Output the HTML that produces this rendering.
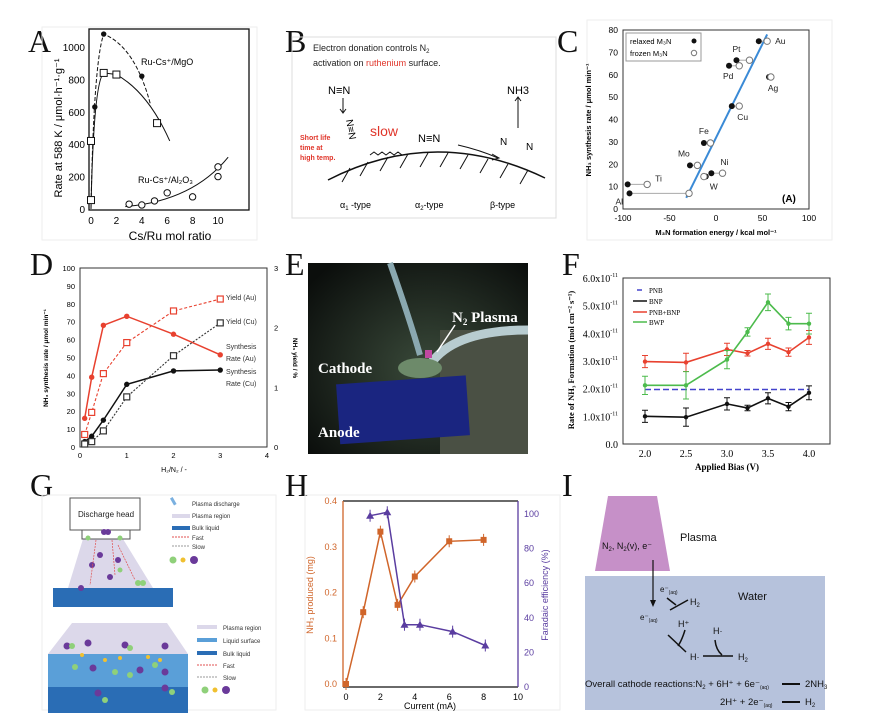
<!DOCTYPE html>
<html><head><meta charset="utf-8">
<style>
html,body{margin:0;padding:0;background:#fff;}
svg{display:block;font-family:"Liberation Sans",sans-serif;}
.lt{font-family:"Liberation Serif",serif;font-size:32px;fill:#111;}
.tk{font-size:9px;fill:#222;}
</style></head><body>
<svg id="fig" width="873" height="725" viewBox="0 0 873 725" xmlns="http://www.w3.org/2000/svg">
<rect width="873" height="725" fill="#fff"/>
<!-- panel letters -->
<text class="lt" x="28" y="52">A</text>
<text class="lt" x="285" y="52">B</text>
<text class="lt" x="557" y="52">C</text>
<text class="lt" x="30" y="275">D</text>
<text class="lt" x="285" y="275">E</text>
<text class="lt" x="562" y="275">F</text>
<text class="lt" x="30" y="496">G</text>
<text class="lt" x="285" y="496">H</text>
<text class="lt" x="562" y="496">I</text>

<!-- frames -->
<rect x="42" y="27" width="215" height="213" fill="none" stroke="#eee"/>
<rect x="292" y="37" width="264" height="181" fill="none" stroke="#ddd"/>
<rect x="587" y="20" width="245" height="220" fill="none" stroke="#eee"/>
<rect x="42" y="495" width="234" height="215" fill="none" stroke="#eee"/>
<rect x="305" y="495" width="255" height="215" fill="none" stroke="#eee"/>

<g id="pa"></g>
<!-- Panel B -->
<g font-family="Liberation Sans,sans-serif">
<text x="313" y="51" font-size="9" fill="#222">Electron donation controls N<tspan font-size="6" dy="2">2</tspan></text>
<text x="313" y="66" font-size="9" fill="#222">activation on <tspan fill="#e0352a">ruthenium</tspan> surface.</text>
<path d="M328,180 Q435,125 545,178" fill="none" stroke="#111" stroke-width="1.5"/>
<g stroke="#111" stroke-width="1">
<line x1="350" y1="168" x2="342" y2="182"/><line x1="368" y1="162" x2="360" y2="176"/><line x1="388" y1="157" x2="380" y2="171"/><line x1="408" y1="154" x2="400" y2="168"/><line x1="428" y1="153" x2="420" y2="167"/><line x1="448" y1="153" x2="440" y2="167"/><line x1="468" y1="155" x2="460" y2="169"/><line x1="488" y1="159" x2="480" y2="173"/><line x1="508" y1="164" x2="500" y2="178"/><line x1="528" y1="170" x2="520" y2="184"/>
<line x1="343" y1="98" x2="343" y2="112"/><path d="M340,109 L343,113 L346,109" fill="none"/>
<line x1="518" y1="128" x2="518" y2="98"/><path d="M515,101 L518,97 L521,101" fill="none"/>
<path d="M458,145 Q480,150 498,158" fill="none"/><path d="M492,154 L499,158 L492,160" fill="none"/>
<path d="M370,155 l4,-3 l4,3 l4,-3 l4,3 l4,-3 l4,3 l4,-3 l4,3" fill="none"/>
</g>
<text x="328" y="94" font-size="11">N≡N</text>
<text x="507" y="94" font-size="11">NH3</text>
<text x="346" y="120" font-size="10" transform="rotate(80 346 120)">N≡N</text>
<text x="418" y="142" font-size="11">N≡N</text>
<text x="500" y="145" font-size="10">N</text><text x="526" y="150" font-size="10">N</text>
<text x="300" y="140" font-size="7" fill="#e0352a" font-weight="bold">Short life</text>
<text x="300" y="150" font-size="7" fill="#e0352a" font-weight="bold">time at</text>
<text x="300" y="160" font-size="7" fill="#e0352a" font-weight="bold">high temp.</text>
<text x="370" y="136" font-size="14" fill="#e0352a">slow</text>
<text x="340" y="208" font-size="9">α<tspan font-size="6" dy="2">1</tspan><tspan dy="-2"> -type</tspan></text>
<text x="415" y="208" font-size="9">α<tspan font-size="6" dy="2">2</tspan><tspan dy="-2">-type</tspan></text>
<text x="490" y="208" font-size="9">β-type</text>
</g>
<g id="pc"></g>
<g id="pd"></g>
<!-- Panel E photo -->
<g>
<defs>
<radialGradient id="eg" cx="0.55" cy="0.55" r="0.7"><stop offset="0" stop-color="#3a4a3a"/><stop offset="1" stop-color="#0b0e0c"/></radialGradient>
</defs>
<rect x="308" y="263" width="220" height="191" fill="url(#eg)"/>
<rect x="440" y="330" width="88" height="124" fill="#4a5044"/>
<rect x="338" y="380" width="130" height="60" fill="#1a2580" transform="rotate(-4 400 410)"/>
<path d="M390,263 Q410,320 420,355" stroke="#8aa8b0" stroke-width="6" fill="none"/>
<path d="M428,368 Q450,330 528,330" stroke="#b8ccd0" stroke-width="9" fill="none"/>
<ellipse cx="420" cy="368" rx="22" ry="10" fill="#6d8a6a"/>
<rect x="425" y="350" width="7" height="8" fill="#c048a0"/>
<line x1="455" y1="325" x2="437" y2="352" stroke="#fff" stroke-width="1.5"/>
<text x="452" y="322" font-family="Liberation Serif,serif" font-weight="bold" font-size="15" fill="#fff">N<tspan font-size="9" dy="3">2</tspan><tspan dy="-3"> Plasma</tspan></text>
<text x="318" y="373" font-family="Liberation Serif,serif" font-weight="bold" font-size="15" fill="#fff">Cathode</text>
<text x="318" y="437" font-family="Liberation Serif,serif" font-weight="bold" font-size="15" fill="#fff">Anode</text>
</g>
<g id="pf"></g>
<!-- Panel G -->
<g font-size="6" fill="#333">
<polygon points="83,539 123,539 153,588 68,588" fill="#dcd8ea"/>
<rect x="70" y="498" width="70" height="32" fill="#fff" stroke="#555"/>
<text x="78" y="517" font-size="8" fill="#222">Discharge head</text>
<rect x="82" y="530" width="48" height="9" fill="#fff" stroke="#555"/>
<rect x="53" y="588" width="120" height="19" fill="#2a6db5"/>
<g fill="#6a3a9a"><circle cx="104" cy="532" r="3"/><circle cx="108" cy="532" r="3"/><circle cx="100" cy="555" r="3"/><circle cx="92" cy="565" r="3"/><circle cx="110" cy="577" r="3"/><circle cx="81" cy="588" r="3"/><circle cx="118" cy="560" r="3"/></g>
<g fill="#8fd07a"><circle cx="88" cy="538" r="2.5"/><circle cx="120" cy="538" r="2.5"/><circle cx="120" cy="570" r="2.5"/><circle cx="138" cy="583" r="3"/><circle cx="143" cy="583" r="3"/></g>
<g stroke="#e05050" stroke-dasharray="2,1" stroke-width="0.7"><line x1="96" y1="540" x2="90" y2="585"/><line x1="112" y1="540" x2="115" y2="575"/><line x1="118" y1="545" x2="135" y2="580"/></g>
<rect x="172" y="498" width="3" height="8" fill="#7ab0e0" transform="rotate(-30 172 502)"/>
<text x="192" y="506">Plasma discharge</text>
<rect x="172" y="514" width="18" height="4" fill="#dcd8ea"/><text x="192" y="518">Plasma region</text>
<rect x="172" y="526" width="18" height="4" fill="#2a6db5"/><text x="192" y="530">Bulk liquid</text>
<line x1="172" y1="537" x2="190" y2="537" stroke="#e05050" stroke-dasharray="2,1"/><text x="192" y="540">Fast</text>
<line x1="172" y1="546" x2="190" y2="546" stroke="#999" stroke-dasharray="2,1"/><text x="192" y="549">Slow</text>
<circle cx="173" cy="560" r="3.5" fill="#8fd07a"/><circle cx="183" cy="560" r="2.5" fill="#f0c030"/><circle cx="194" cy="560" r="4" fill="#6a3a9a"/>
<polygon points="72,623 167,623 188,654 48,654" fill="#dcd8ea"/>
<rect x="48" y="654" width="140" height="33" fill="#5a9fd8"/>
<rect x="48" y="687" width="140" height="26" fill="#2a6db5"/>
<g fill="#6a3a9a"><circle cx="67" cy="646" r="3.5"/><circle cx="88" cy="643" r="3.5"/><circle cx="125" cy="645" r="3.5"/><circle cx="165" cy="646" r="3.5"/><circle cx="93" cy="668" r="3.5"/><circle cx="140" cy="670" r="3.5"/><circle cx="165" cy="672" r="3.5"/><circle cx="98" cy="693" r="3.5"/><circle cx="165" cy="688" r="3.5"/></g>
<g fill="#8fd07a"><circle cx="72" cy="646" r="3"/><circle cx="130" cy="648" r="3"/><circle cx="75" cy="667" r="3"/><circle cx="115" cy="672" r="3"/><circle cx="130" cy="675" r="3"/><circle cx="155" cy="665" r="3"/><circle cx="105" cy="700" r="3"/><circle cx="172" cy="692" r="3"/></g>
<g fill="#f0c030"><circle cx="82" cy="655" r="2"/><circle cx="105" cy="660" r="2"/><circle cx="120" cy="658" r="2"/><circle cx="148" cy="657" r="2"/><circle cx="160" cy="660" r="2"/></g>
<rect x="197" y="625" width="20" height="4" fill="#dcd8ea"/><text x="223" y="630">Plasma region</text>
<rect x="197" y="638" width="20" height="4" fill="#5a9fd8"/><text x="223" y="643">Liquid surface</text>
<rect x="197" y="651" width="20" height="4" fill="#2a6db5"/><text x="223" y="656">Bulk liquid</text>
<line x1="197" y1="665" x2="217" y2="665" stroke="#e05050" stroke-dasharray="2,1"/><text x="223" y="668">Fast</text>
<line x1="197" y1="677" x2="217" y2="677" stroke="#999" stroke-dasharray="2,1"/><text x="223" y="680">Slow</text>
<circle cx="205" cy="690" r="3.5" fill="#8fd07a"/><circle cx="215" cy="690" r="2.5" fill="#f0c030"/><circle cx="226" cy="690" r="4" fill="#6a3a9a"/>
</g>
<g id="ph"></g>
<!-- Panel I -->
<g font-size="10" fill="#111">
<rect x="585" y="576" width="240" height="134" fill="#b6c2dc"/>
<polygon points="608,496 657,496 670,571 595,571" fill="#c690c8"/>
<text x="602" y="549" font-size="9">N<tspan font-size="6" dy="2">2</tspan><tspan dy="-2">, N</tspan><tspan font-size="6" dy="2">2</tspan><tspan dy="-2">(v), e⁻</tspan></text>
<text x="680" y="541" font-size="11">Plasma</text>
<text x="738" y="600" font-size="11">Water</text>
<line x1="653" y1="560" x2="653" y2="605" stroke="#111" stroke-width="1.2"/><path d="M650,600 L653,607 L656,600" fill="#111"/>
<text x="660" y="592" font-size="8">e⁻<tspan font-size="5" dy="2">(aq)</tspan></text>
<text x="640" y="620" font-size="8">e⁻<tspan font-size="5" dy="2">(aq)</tspan></text>
<text x="690" y="605" font-size="9">H<tspan font-size="6" dy="2">2</tspan></text>
<text x="678" y="627" font-size="9">H⁺</text>
<text x="713" y="634" font-size="9">H·</text>
<text x="690" y="660" font-size="9">H·</text>
<text x="738" y="660" font-size="9">H<tspan font-size="6" dy="2">2</tspan></text>
<g stroke="#111" stroke-width="1.5" fill="none"><path d="M670,610 L688,600"/><path d="M667,598 Q672,602 676,605"/><path d="M668,635 L686,652"/><path d="M685,630 Q682,640 678,646"/><path d="M703,656 L733,656"/><path d="M715,640 Q716,650 722,655"/></g>
<text x="585" y="687" font-size="9.5">Overall cathode reactions:N<tspan font-size="6" dy="2">2</tspan><tspan dy="-2"> + 6H⁺ + 6e⁻</tspan><tspan font-size="5" dy="2">(aq)</tspan></text>
<line x1="782" y1="684" x2="800" y2="684" stroke="#111" stroke-width="2"/>
<text x="805" y="687" font-size="9.5">2NH<tspan font-size="6" dy="2">3</tspan></text>
<text x="720" y="705" font-size="9.5">2H⁺ + 2e⁻<tspan font-size="5" dy="2">(aq)</tspan></text>
<line x1="782" y1="702" x2="800" y2="702" stroke="#111" stroke-width="2"/>
<text x="805" y="705" font-size="9.5">H<tspan font-size="6" dy="2">2</tspan></text>
</g>
</svg>
<script>
// ===== data =====
// Panel A
const aMgOx=[0.3,1,4], aMgOy=[630,1080,820];
const aSqx=[0,0,1,2,5.2], aSqy=[55,420,840,830,530];
const aAlx=[3,4,5,6,8,10,10], aAly=[30,25,50,100,75,200,260];
const aXt=[0,2,4,6,8,10], aYt=[0,200,400,600,800,1000];
// Panel C
const cNames=['Au','Pt','Pd','Ag','Cu','Fe','Mo','Ni','W','Ti','Al'];
const cRelaxed=[46,22,14,57,17,-13,-28,-5,-11,-95,-93];
const cFrozen=[55,36,25,59,25,-6,-20,7,-13,-74,-29];
const cRate=[75,66.5,64,59,46,29.5,19.5,16,14.5,11,7];
const cXt=[-100,-50,0,50,100], cYt=[0,10,20,30,40,50,60,70,80];
// Panel D
const dX=[0.1,0.25,0.5,1,2,3];
const dRateAu=[16,39,68,73,63,51.5];
const dRateCu=[3,6,15,35,42.5,43];
const dYieldAu=[0.21,0.58,1.23,1.75,2.28,2.48];
const dYieldCu=[0.05,0.09,0.27,0.84,1.53,2.08];
const dXt=[0,1,2,3,4], dYt=[0,10,20,30,40,50,60,70,80,90,100], dY2t=[0,1,2,3];
// Panel F
const fX=[2,2.5,3,3.25,3.5,3.75,4];
const fBNP=[1.0,0.97,1.45,1.3,1.65,1.35,1.85];
const fPB=[2.98,2.95,3.42,3.28,3.62,3.32,3.85];
const fBWP=[2.12,2.12,3.05,4.05,5.12,4.35,4.35];
const fErr=[0.22,0.33,0.22,0.1,0.2,0.15,0.25];
const fPNB=1.97;
const fXt=[2,2.5,3,3.5,4], fYt=[0,1,2,3,4,5,6];
// Panel H
const hX=[0,1,2,3,4,6,8], hNH3=[0,0.157,0.333,0.173,0.235,0.312,0.315];
const hFx=[1.4,2.4,3.4,4.3,6.2,8.1], hFE=[99,101,36,36,32,24];
const hXt=[0,2,4,6,8,10], hYt=[0,0.1,0.2,0.3,0.4], hY2t=[0,20,40,60,80,100];

const NS='http://www.w3.org/2000/svg';
function mk(p,t,a,txt){const e=document.createElementNS(NS,t);for(const k in a)e.setAttribute(k,a[k]);if(txt!==undefined)e.textContent=txt;p.appendChild(e);return e;}
function lin(d0,d1,r0,r1){return v=>r0+(v-d0)*(r1-r0)/(d1-d0);}
function pathOf(xs,ys,sx,sy){return xs.map((v,i)=>(i?'L':'M')+sx(v).toFixed(1)+','+sy(ys[i]).toFixed(1)).join(' ');}
function smooth(xs,ys,sx,sy){let d='M'+sx(xs[0])+','+sy(ys[0]);for(let i=1;i<xs.length;i++){const x0=sx(xs[i-1]),y0=sy(ys[i-1]),x1=sx(xs[i]),y1=sy(ys[i]);d+=' Q'+x0+','+((y0+y1)/2)+' '+((x0+x1)/2)+','+((y0+y1)/2)+' T'+x1+','+y1;}return d;}

// ===== Panel A =====
(function(){const g=document.getElementById('pa');
const sx=lin(0,10,91,218), sy=lin(0,1000,209,47);
mk(g,'rect',{x:89,y:29,width:160,height:181,fill:'none',stroke:'#111','stroke-width':1.3});
aXt.forEach(v=>{const t=mk(g,'text',{x:sx(v),y:224,'text-anchor':'middle','font-size':10},v);});
aYt.forEach(v=>{const t=mk(g,'text',{x:85,y:sy(v)+4,'text-anchor':'end','font-size':10},v);});
mk(g,'text',{x:170,y:240,'text-anchor':'middle','font-size':12},'Cs/Ru mol ratio');
mk(g,'text',{x:0,y:0,'text-anchor':'middle','font-size':11,transform:'translate(62,128) rotate(-90)'},'Rate at 588 K / μmol·h⁻¹·g⁻¹');
mk(g,'path',{d:'M'+sx(0)+','+sy(0)+' Q'+sx(0.2)+','+sy(900)+' '+sx(1)+','+sy(1080)+' Q'+sx(3.5)+','+sy(1000)+' '+sx(4.7)+','+sy(640),fill:'none',stroke:'#111','stroke-dasharray':'4,2'});
mk(g,'path',{d:'M'+sx(0)+','+sy(0)+' Q'+sx(0.2)+','+sy(780)+' '+sx(1)+','+sy(840)+' L'+sx(2)+','+sy(830)+' Q'+sx(4.5)+','+sy(720)+' '+sx(6.2)+','+sy(420),fill:'none',stroke:'#111'});
mk(g,'path',{d:'M'+sx(2.7)+','+sy(15)+' Q'+sx(8)+','+sy(50)+' '+sx(10.8)+','+sy(320),fill:'none',stroke:'#111'});
aMgOx.forEach((v,i)=>{const c=mk(g,'circle',{cx:sx(v),cy:sy(aMgOy[i]),r:2.7,fill:'#111'});});
aSqx.forEach((v,i)=>{const c=mk(g,'rect',{x:sx(v)-3.5,y:sy(aSqy[i])-3.5,width:7,height:7,fill:'#fff',stroke:'#111'});});
aAlx.forEach((v,i)=>{const c=mk(g,'circle',{cx:sx(v),cy:sy(aAly[i]),r:3.2,fill:'#fff',stroke:'#111'});});
mk(g,'text',{x:141,y:65,'font-size':9},'Ru-Cs⁺/MgO');
mk(g,'text',{x:138,y:183,'font-size':9},'Ru-Cs⁺/Al₂O₃');
})();

// ===== Panel C =====
(function(){const g=document.getElementById('pc');
const sx=lin(-100,100,623,809), sy=lin(0,80,209,30);
mk(g,'rect',{x:623,y:30,width:186,height:179,fill:'none',stroke:'#333'});
cXt.forEach(v=>{const t=mk(g,'text',{x:sx(v),y:221,'text-anchor':'middle','font-size':8.5},v);});
cYt.forEach(v=>{const t=mk(g,'text',{x:618,y:sy(v)+3,'text-anchor':'end','font-size':8.5},v);});
mk(g,'text',{x:716,y:235,'text-anchor':'middle','font-size':7.5,'font-weight':'bold'},'M₃N formation energy / kcal mol⁻¹');
mk(g,'text',{x:0,y:0,'text-anchor':'middle','font-size':7.5,'font-weight':'bold',transform:'translate(591,120) rotate(-90)'},'NH₃ synthesis rate / μmol min⁻¹');
mk(g,'line',{x1:sx(-32),y1:sy(5),x2:sx(55),y2:sy(78),stroke:'#3a8ad6','stroke-width':2});
cNames.forEach((n,i)=>{const y=sy(cRate[i]);
 mk(g,'line',{x1:sx(cRelaxed[i]),y1:y,x2:sx(cFrozen[i]),y2:y,stroke:'#aaa'});
 const a=mk(g,'circle',{cx:sx(cRelaxed[i]),cy:y,r:3,fill:'#111'});
 const b=mk(g,'circle',{cx:sx(cFrozen[i]),cy:y,r:3.2,fill:'#fff',stroke:'#777'});
});
const lab={Au:[8,3],Pt:[-4,-8],Pd:[-6,13],Ag:[-3,14],Cu:[-2,14],Fe:[-5,-9],Mo:[-12,-9],Ni:[-2,-8],W:[4,13],Ti:[8,-3],Al:[-14,11]};
cNames.forEach((n,i)=>{const L=lab[n];const x=(n==='Au'||n==='Ti'||n==='Ni'||n==='Ag'||n==='Cu')?sx(cFrozen[i]):sx(cRelaxed[i]);mk(g,'text',{x:x+L[0],y:sy(cRate[i])+L[1],'font-size':8.5,fill:'#222'},n);});
mk(g,'rect',{x:626,y:33,width:75,height:28,fill:'#fff',stroke:'#999'});
mk(g,'text',{x:630,y:44,'font-size':7.5},'relaxed M₃N');mk(g,'circle',{cx:694,cy:41,r:2.5,fill:'#111'});
mk(g,'text',{x:630,y:56,'font-size':7.5},'frozen M₃N');mk(g,'circle',{cx:694,cy:53,r:2.7,fill:'#fff',stroke:'#777'});
mk(g,'text',{x:782,y:202,'font-size':10,'font-weight':'bold'},'(A)');
})();

// ===== Panel D =====
(function(){const g=document.getElementById('pd');
const sx=lin(0,4,80,267), sy=lin(0,100,447,268), sy2=lin(0,3,447,268);
mk(g,'rect',{x:80,y:268,width:187,height:179,fill:'none',stroke:'#333'});
dXt.forEach(v=>{const t=mk(g,'text',{x:sx(v),y:458,'text-anchor':'middle','font-size':7.5},v);});
dYt.forEach(v=>{const t=mk(g,'text',{x:75,y:sy(v)+3,'text-anchor':'end','font-size':7.5},v);});
dY2t.forEach(v=>{const t=mk(g,'text',{x:274,y:sy2(v)+3,'font-size':7.5},v);});
mk(g,'text',{x:174,y:472,'text-anchor':'middle','font-size':7},'H₂/N₂ / -');
mk(g,'text',{x:0,y:0,'text-anchor':'middle','font-size':6.5,'font-weight':'bold',transform:'translate(48,358) rotate(-90)'},'NH₃ synthesis rate / μmol min⁻¹');
mk(g,'text',{x:0,y:0,'text-anchor':'middle','font-size':6.5,'font-weight':'bold',transform:'translate(293,358) rotate(90)'},'NH₃ yield / %');
const S=[[dRateAu,sy,'#e8412f',null,'c','d-rate-au'],[dRateCu,sy,'#111',null,'c','d-rate-cu'],[dYieldAu,sy2,'#e8412f','3,2','s','d-yield-au'],[dYieldCu,sy2,'#333','2,1.5','s','d-yield-cu']];
S.forEach(s=>{const p=mk(g,'path',{d:pathOf(dX,s[0],sx,s[1]),fill:'none',stroke:s[2],'stroke-width':s[4]==='c'?1.5:1.1,'stroke-dasharray':s[3]||'none'});
 dX.forEach((v,i)=>{let m;if(s[4]==='c')m=mk(g,'circle',{cx:sx(v),cy:s[1](s[0][i]),r:2.7,fill:s[2]});else m=mk(g,'rect',{x:sx(v)-3,y:s[1](s[0][i])-3,width:6,height:6,fill:'#fff',stroke:s[2],'stroke-width':1.2});});});
[['Yield (Au)',300],['Yield (Cu)',324],['Synthesis',349],['Rate (Au)',361],['Synthesis',374],['Rate (Cu)',386]].forEach(l=>mk(g,'text',{x:226,y:l[1],'font-size':7,fill:'#333'},l[0]));
})();

// ===== Panel F =====
(function(){const g=document.getElementById('pf');
const sx=lin(2,4,645,809), sy=lin(0,6,444,278);
mk(g,'rect',{x:623,y:278,width:207,height:166,fill:'none',stroke:'#333'});
fXt.forEach(v=>{const t=mk(g,'text',{x:sx(v),y:457,'text-anchor':'middle','font-size':10,'font-family':'Liberation Serif,serif'},v.toFixed(1));});
fYt.forEach(v=>{const t=mk(g,'text',{x:618,y:sy(v)+4,'text-anchor':'end','font-size':10,'font-family':'Liberation Serif,serif'});t.innerHTML=v===0?'0.0':v.toFixed(1)+'x10<tspan font-size="6" dy="-5">-11</tspan>';});
mk(g,'text',{x:727,y:470,'text-anchor':'middle','font-size':9,'font-weight':'bold','font-family':'Liberation Serif,serif'},'Applied Bias (V)');
mk(g,'text',{x:0,y:0,'text-anchor':'middle','font-size':8.5,'font-weight':'bold','font-family':'Liberation Serif,serif',transform:'translate(574,360) rotate(-90)'},'Rate of NH₃ Formation (mol cm⁻² s⁻¹)');
const pl=mk(g,'line',{x1:sx(2),y1:sy(fPNB),x2:sx(4),y2:sy(fPNB),stroke:'#4444cc','stroke-width':1.5,'stroke-dasharray':'6,3'});
[[fBNP,'#111','f-bnp'],[fPB,'#e8412f','f-pnb-bnp'],[fBWP,'#4cbb4c','f-bwp']].forEach(s=>{
 const p=mk(g,'path',{d:pathOf(fX,s[0],sx,sy),fill:'none',stroke:s[1],'stroke-width':1.6});
 fX.forEach((v,i)=>{const x=sx(v),y=sy(s[0][i]),e=fErr[i]*27.7*(s[2]==='f-bwp'?1.5:1);
  mk(g,'path',{d:'M'+x+','+(y-e)+' V'+(y+e)+' M'+(x-3)+','+(y-e)+' h6 M'+(x-3)+','+(y+e)+' h6',stroke:s[1],fill:'none'});
  const m=mk(g,'circle',{cx:x,cy:y,r:2.2,fill:s[1]});});});
[['PNB','#4444cc',290],['BNP','#111',301],['PNB+BNP','#e8412f',312],['BWP','#4cbb4c',322]].forEach(l=>{mk(g,'line',{x1:l[0]==='PNB'?637:633,y1:l[2],x2:l[0]==='PNB'?642:647,y2:l[2],stroke:l[1],'stroke-width':1.5});mk(g,'text',{x:649,y:l[2]+3,'font-size':7,'font-family':'Liberation Serif,serif'},l[0]);});
})();

// ===== Panel H =====
(function(){const g=document.getElementById('ph');
const sx=lin(0,10,346,518), sy=lin(0,0.4,684,501), sy2=lin(0,100,687,514);
const O='#d0652a',P='#5a3da0';
mk(g,'line',{x1:343,y1:501,x2:518,y2:501,stroke:'#111','stroke-width':1.3});
mk(g,'line',{x1:343,y1:687,x2:518,y2:687,stroke:'#111','stroke-width':1.3});
mk(g,'line',{x1:343,y1:501,x2:343,y2:687,stroke:O,'stroke-width':1.3});
mk(g,'line',{x1:518,y1:501,x2:518,y2:687,stroke:P,'stroke-width':1.3});
hXt.forEach(v=>{const t=mk(g,'text',{x:sx(v),y:700,'text-anchor':'middle','font-size':9},v);});
hYt.forEach(v=>{const t=mk(g,'text',{x:337,y:sy(v)+3,'text-anchor':'end','font-size':9,fill:O},v.toFixed(1));});
hY2t.forEach(v=>{const t=mk(g,'text',{x:524,y:sy2(v)+3,'font-size':9,fill:P},v);});
mk(g,'text',{x:430,y:709,'text-anchor':'middle','font-size':9},'Current (mA)');
mk(g,'text',{x:0,y:0,'text-anchor':'middle','font-size':9,fill:O,transform:'translate(313,595) rotate(-90)'},'NH₃ produced (mg)');
mk(g,'text',{x:0,y:0,'text-anchor':'middle','font-size':9,fill:P,transform:'translate(548,595) rotate(-90)'},'Faradaic efficiency (%)');
const p1=mk(g,'path',{d:pathOf(hX,hNH3,sx,sy),fill:'none',stroke:O,'stroke-width':1.5});
hX.forEach((v,i)=>{const x=sx(v),y=sy(hNH3[i]);mk(g,'path',{d:'M'+x+','+(y-6)+' V'+(y+6),stroke:O});const m=mk(g,'rect',{x:x-3,y:y-3,width:6,height:6,fill:O});});
const p2=mk(g,'path',{d:pathOf(hFx,hFE,sx,sy2),fill:'none',stroke:P,'stroke-width':1.5});
hFx.forEach((v,i)=>{const x=sx(v),y=sy2(hFE[i]);mk(g,'path',{d:'M'+x+','+(y-6)+' V'+(y+6),stroke:P});const m=mk(g,'path',{d:'M'+x+','+(y-4)+' L'+(x+4)+','+(y+3)+' L'+(x-4)+','+(y+3)+'Z',fill:P});});
})();
</script>
</body></html>
